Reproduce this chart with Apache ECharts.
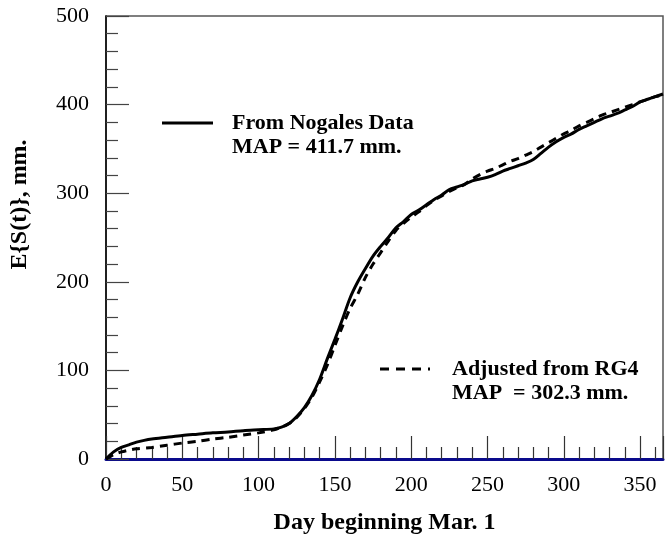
<!DOCTYPE html>
<html>
<head>
<meta charset="utf-8">
<script src="https://cdn.jsdelivr.net/npm/echarts@6/dist/echarts.min.js"></script>
<style>
html, body { margin: 0; padding: 0; background: #fff; }
#plot { width: 665px; height: 542px; }
</style>
</head>
<body>
<div id="plot"></div>
<script>
// cumulative expected rainfall
const nogalesDays = [0, 5, 10, 15, 20, 25, 30, 40, 50, 60, 70, 80, 90, 100, 110, 115, 120, 125, 130, 135, 140, 145, 150, 155, 160, 165, 170, 175, 180, 185, 190, 195, 200, 205, 210, 215, 220, 225, 230, 235, 240, 245, 250, 255, 260, 265, 270, 275, 280, 285, 290, 295, 300, 305, 310, 315, 320, 325, 330, 335, 340, 345, 350, 355, 360, 365];
const nogalesVals = [0, 8, 13, 16, 19, 21, 22.5, 24.5, 26.5, 28, 29.5, 30.5, 32, 33, 34, 36, 40, 48, 58, 72, 90, 113, 135, 158, 182, 200, 215, 229, 240, 250, 261, 268, 276, 281, 287, 293, 298, 304, 307, 310, 314, 316, 318, 321, 325, 328, 331, 334, 338, 345, 352, 358, 363, 367, 372, 376, 380, 384, 387, 390, 394, 398, 403, 406, 409, 412];

const rg4Days = [0, 5, 10, 15, 20, 30, 40, 50, 60, 70, 80, 90, 100, 110, 115, 120, 125, 130, 135, 140, 145, 150, 155, 160, 165, 170, 175, 180, 185, 190, 195, 200, 205, 210, 215, 220, 225, 230, 235, 240, 245, 250, 255, 260, 265, 270, 275, 280, 285, 290, 295, 300, 305, 310, 315, 320, 325, 330, 335, 340, 345, 350, 355, 360, 365];
const rg4Vals = [0, 5, 8, 10, 11.5, 13, 15.5, 18, 20, 22.5, 24.5, 27, 29.5, 33, 36, 40, 47, 57, 70, 87, 106, 128, 150, 170, 186, 205, 220, 233, 246, 258, 266, 273, 279, 286, 292, 297, 302, 306, 310, 316, 321, 325, 328, 332, 336, 339, 343, 347, 352, 357, 362, 367, 371, 376, 380, 384, 388, 391, 394, 397, 400, 403, 406, 409, 411];

const legend1 = ['From Nogales Data', 'MAP = 411.7 mm.'];
const legend2 = ['Adjusted from RG4', 'MAP  = 302.3 mm.'];

const FONT = 'Liberation Serif';

function pairs(xs, ys) {
    return xs.map(function (x, i) { return [x, ys[i]]; });
}

const chart = echarts.init(document.getElementById('plot'));
chart.setOption({
    animation: false,
    backgroundColor: '#fff',
    grid: {
        left: 106,
        right: 2,
        top: 16,
        bottom: 83,
        show: true,
        borderColor: '#555',
        borderWidth: 1.5
    },
    xAxis: {
        type: 'value',
        min: 0,
        max: 365,
        interval: 50,
        name: 'Day beginning Mar. 1',
        nameLocation: 'middle',
        nameGap: 52,
        nameTextStyle: { fontFamily: FONT, fontSize: 24, fontWeight: 'bold', color: '#000' },
        axisLine: { show: true, onZero: false, lineStyle: { color: '#0a0a8c', width: 3 } },
        axisTick: { show: true, inside: true, length: 23, lineStyle: { color: '#333', width: 1.2 } },
        minorTick: { show: true, splitNumber: 5, length: 12, lineStyle: { color: '#333', width: 1.2 } },
        axisLabel: { fontFamily: FONT, fontSize: 22, color: '#000', margin: 15 },
        splitLine: { show: false }
    },
    yAxis: {
        type: 'value',
        min: 0,
        max: 500,
        interval: 100,
        name: 'E{S(t)}, mm.',
        nameLocation: 'middle',
        nameGap: 74,
        nameTextStyle: { fontFamily: FONT, fontSize: 24, fontWeight: 'bold', color: '#000', padding: [0, 0, 0, 66] },
        axisLine: { show: true, lineStyle: { color: '#000', width: 1.5 } },
        axisTick: { show: true, inside: true, length: 23, lineStyle: { color: '#444', width: 1.2 } },
        minorTick: { show: true, splitNumber: 5, length: 12, lineStyle: { color: '#444', width: 1.2 } },
        axisLabel: { fontFamily: FONT, fontSize: 22, color: '#000', margin: 17 },
        splitLine: { show: false }
    },
    series: [
        {
            name: legend1[0],
            type: 'line',
            data: pairs(nogalesDays, nogalesVals),
            showSymbol: false,
            smooth: 0.3,
            lineStyle: { color: '#000', width: 3 },
            z: 3
        },
        {
            name: legend2[0],
            type: 'line',
            data: pairs(rg4Days, rg4Vals),
            showSymbol: false,
            smooth: 0.3,
            lineStyle: { color: '#000', width: 3, type: [8, 6] },
            z: 2
        }
    ],
    // legend keys drawn by hand, as in the figure
    graphic: [
        { type: 'line', shape: { x1: 162, y1: 123, x2: 213, y2: 123 }, style: { stroke: '#000', lineWidth: 3 } },
        { type: 'text', left: 232, top: 111, style: { text: legend1.join('\n'), font: 'bold 22px "Liberation Serif"', fill: '#000', lineHeight: 24 } },
        { type: 'line', shape: { x1: 380, y1: 369, x2: 430, y2: 369 }, style: { stroke: '#000', lineWidth: 3, lineDash: [9, 7] } },
        { type: 'text', left: 452, top: 357, style: { text: legend2.join('\n'), font: 'bold 22px "Liberation Serif"', fill: '#000', lineHeight: 24 } }
    ]
});
</script>
</body>
</html>
